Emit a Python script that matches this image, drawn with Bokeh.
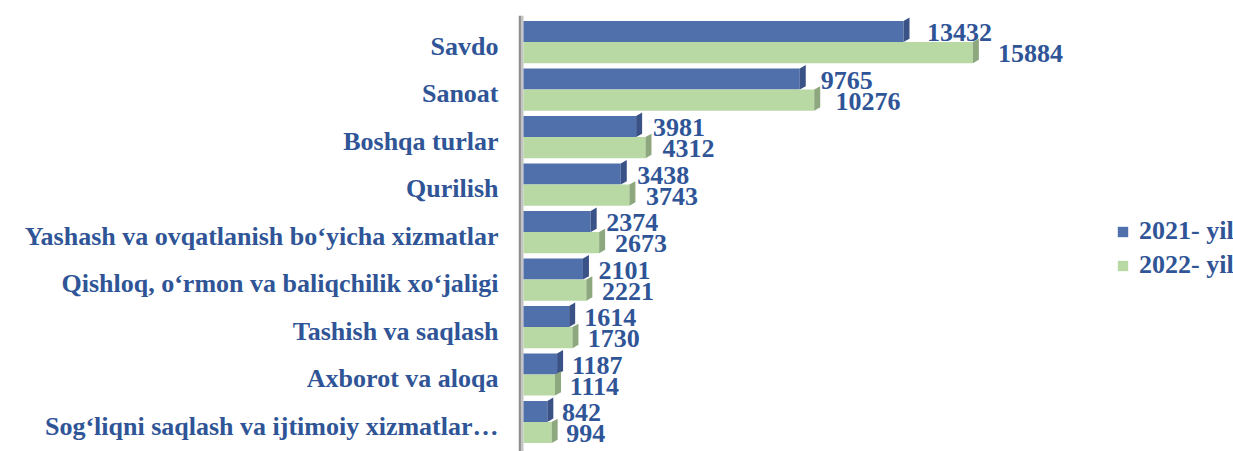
from bokeh.plotting import figure
from bokeh.models import (ColumnDataSource, Range1d, FixedTicker, Legend, LegendItem,
                          BoxAnnotation)
from bokeh.transform import dodge
from bokeh.core.properties import value
from bokeh.embed import file_html
from bokeh.resources import INLINE

categories = [
    "Savdo",
    "Sanoat",
    "Boshqa turlar",
    "Qurilish",
    "Yashash va ovqatlanish bo\u2018yicha xizmatlar",
    "Qishloq, o\u2018rmon va baliqchilik xo\u2018jaligi",
    "Tashish va saqlash",
    "Axborot va aloqa",
    "Sog\u2018liqni saqlash va ijtimoiy xizmatlar\u2026",
]
values_2021 = [13432, 9765, 3981, 3438, 2374, 2101, 1614, 1187, 842]
values_2022 = [15884, 10276, 4312, 3743, 2673, 2221, 1730, 1114, 994]
series_names = ["2021- yil", "2022- yil"]

FONT = "Liberation Serif"
TXT = "#2F5597"
BLUE, BLUE_SIDE = "#5070AC", "#3A5286"
GREEN, GREEN_SIDE = "#B9D9A4", "#8DA77E"

BAR_H = 0.443
OFF = 0.222
DX = 212      # depth of side face in data units (x)
DY = 0.072    # rise of side face in data units (y)
LABEL_SHIFT = 0.09

rows = list(range(len(categories)))

p = figure(width=1233, height=451, output_backend="svg", toolbar_location=None,
           x_range=Range1d(-177, 25097), y_range=Range1d(8.62, -0.56),
           x_axis_location=None, min_border_left=518, min_border_right=0,
           min_border_top=15, min_border_bottom=0)
p.outline_line_color = None
p.xgrid.visible = False
p.ygrid.visible = False
p.background_fill_color = "white"

# left 3D wall
p.add_layout(BoxAnnotation(left=-177, right=-90, fill_color="#8F8F8F", fill_alpha=1,
                           line_color=None, level="underlay"))
p.add_layout(BoxAnnotation(left=-90, right=0, fill_color="#C4C4C4", fill_alpha=1,
                           line_color=None, level="underlay"))

renderers = []
for vals, off, col, side, name in [(values_2021, -OFF, BLUE, BLUE_SIDE, series_names[0]),
                                   (values_2022, OFF, GREEN, GREEN_SIDE, series_names[1])]:
    src = ColumnDataSource(dict(y=rows, v=vals, lx=[v * 1.025 for v in vals],
                                lab=[str(v) for v in vals]))
    r = p.hbar(y=dodge("y", off, range=p.y_range), right="v", left=0, height=BAR_H,
               source=src, fill_color=col, line_color=None)
    renderers.append((name, r))
    xs, ys = [], []
    for i, v in zip(rows, vals):
        top = i + off - BAR_H / 2
        bot = i + off + BAR_H / 2
        xs.append([v, v + DX, v + DX, v])
        ys.append([top, top - DY, bot - DY, bot])
    p.patches(xs=xs, ys=ys, fill_color=side, line_color=None)
    p.text(x="lx", y=dodge("y", off, range=p.y_range), text="lab", source=src,
           x_offset=14, y_offset=1, text_baseline="middle", text_align="left",
           text_font=value(FONT), text_font_style="bold", text_font_size="26px",
           text_color=TXT)

ticks = [i + LABEL_SHIFT for i in rows]
yax = p.yaxis[0]
yax.ticker = FixedTicker(ticks=ticks)
yax.major_label_overrides = {t: c for t, c in zip(ticks, categories)}
yax.axis_line_color = None
yax.major_tick_line_color = None
yax.minor_tick_line_color = None
yax.major_tick_out = 0
yax.major_tick_in = 0
yax.major_label_standoff = 20
yax.major_label_text_font = FONT
yax.major_label_text_font_style = "bold"
yax.major_label_text_font_size = "26px"
yax.major_label_text_color = TXT

legend = Legend(items=[LegendItem(label=n, renderers=[r]) for n, r in renderers],
                location=(598, 171), orientation="vertical",
                glyph_width=13, glyph_height=13, label_standoff=10, spacing=4,
                padding=0, margin=0, border_line_color=None, background_fill_alpha=0,
                label_text_font=FONT, label_text_font_style="bold",
                label_text_font_size="26px", label_text_color=TXT)
p.add_layout(legend)

open("out.html", "w").write(file_html(p, INLINE))
